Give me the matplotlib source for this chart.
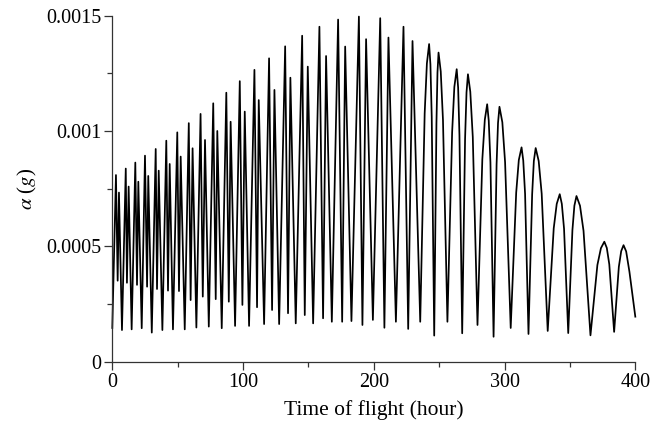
import matplotlib
matplotlib.use("Agg")
import matplotlib.pyplot as plt
from matplotlib.ticker import MultipleLocator, FuncFormatter

# turning points; the wide arches after 240 h also get
# a few shoulder points so their round tops show
time_h = [0.0, 2.8, 4.1, 5.1, 7.4, 10.3, 11.2, 12.5, 14.8, 17.6, 18.9, 19.9, 22.5,
          25.0, 26.6, 27.5, 30.2, 33.2, 34.2, 35.5, 38.3, 41.3, 42.6, 43.9, 46.4,
          49.7, 51.0, 52.3, 55.4, 58.5, 59.9, 61.4, 64.3, 67.5, 69.2, 70.9, 73.8,
          77.2, 79.1, 80.3, 83.7, 87.2, 89.1, 90.5, 93.9, 97.5, 99.5, 101.3, 104.6,
          108.7, 110.7, 112.0, 116.1, 119.9, 122.2, 124.0, 127.6, 132.2, 134.4,
          136.2, 140.3, 145.2, 147.2, 149.5, 153.6, 158.4, 161.2, 163.5, 167.9,
          172.7, 175.8, 178.1, 182.9, 188.6, 191.3, 194.1, 199.3, 204.9, 208.1,
          211.2, 216.9, 222.7, 226.3, 229.6, 235.5,
          238.9, 240.6, 242.3, 243.3, 244.3, 246.2,
          247.9, 248.7, 249.5, 251.2, 252.9, 256.3,
          259.9, 261.6, 263.4, 264.5, 265.5, 267.6,
          269.8, 270.9, 272.0, 273.8, 275.7, 279.3,
          283.0, 284.9, 286.7, 287.9, 289.2, 291.6,
          293.9, 295.0, 296.1, 298.3, 300.4, 304.7,
          308.9, 310.9, 313.0, 314.3, 315.7, 318.3,
          321.1, 322.4, 323.8, 326.1, 328.4, 333.0,
          337.6, 339.9, 342.2, 343.8, 345.5, 348.7,
          351.9, 353.4, 355.0, 357.7, 360.4, 365.7,
          371.0, 373.7, 376.3, 378.2, 380.1, 383.8,
          387.4, 389.2, 391.0, 393.0, 395.5, 400.0]

accel_g = [0.000146, 0.000809, 0.000351, 0.000733, 0.000137, 0.000837, 0.000342,
           0.000759, 0.000140, 0.000863, 0.000333, 0.000780, 0.000145, 0.000893,
           0.000325, 0.000805, 0.000126, 0.000922, 0.000315, 0.000828, 0.000137,
           0.000958, 0.000308, 0.000857, 0.000140, 0.000994, 0.000306, 0.000889,
           0.000140, 0.001034, 0.000267, 0.000925, 0.000148, 0.001074, 0.000282,
           0.000961, 0.000152, 0.001120, 0.000271, 0.001000, 0.000145, 0.001166,
           0.000260, 0.001040, 0.000155, 0.001216, 0.000246, 0.001084, 0.000155,
           0.001265, 0.000236, 0.001134, 0.000163, 0.001315, 0.000224, 0.001178,
           0.000163, 0.001367, 0.000210, 0.001231, 0.000166, 0.001413, 0.000202,
           0.001279, 0.000166, 0.001452, 0.000188, 0.001325, 0.000173, 0.001483,
           0.000173, 0.001366, 0.000176, 0.001496, 0.000159, 0.001398, 0.000181,
           0.001489, 0.000147, 0.001405, 0.000173, 0.001452, 0.000142, 0.001390,
           0.000173,
           0.001076, 0.001293, 0.001377, 0.001289, 0.001061, 0.000113,
           0.001033, 0.001254, 0.001340, 0.001258, 0.001048, 0.000173,
           0.000994, 0.001191, 0.001268, 0.001188, 0.000982, 0.000123,
           0.000965, 0.001167, 0.001246, 0.001170, 0.000974, 0.000159,
           0.000877, 0.001049, 0.001116, 0.001045, 0.000864, 0.000108,
           0.000856, 0.001035, 0.001105, 0.001038, 0.000865, 0.000146,
           0.000733, 0.000874, 0.000929, 0.000872, 0.000727, 0.000120,
           0.000725, 0.000870, 0.000926, 0.000870, 0.000728, 0.000133,
           0.000578, 0.000684, 0.000726, 0.000684, 0.000576, 0.000124,
           0.000570, 0.000676, 0.000718, 0.000676, 0.000567, 0.000114,
           0.000419, 0.000492, 0.000520, 0.000493, 0.000422, 0.000129,
           0.000411, 0.000479, 0.000505, 0.000478, 0.000390, 0.000195]

plt.rcParams['font.family'] = ['Liberation Serif', 'DejaVu Serif']
plt.rcParams['mathtext.fontset'] = 'stix'

fig = plt.figure(figsize=(6.51, 4.29), dpi=100)
ax = fig.add_axes([0.1725, 0.157, 0.8034, 0.8065])

ax.plot(time_h, accel_g, color='black', linewidth=1.25,
        solid_joinstyle='round', clip_on=False)

ax.set_xlim(0, 400)
ax.set_ylim(0, 0.0015)
ax.xaxis.set_major_locator(MultipleLocator(100))
ax.xaxis.set_minor_locator(MultipleLocator(50))
ax.yaxis.set_major_locator(MultipleLocator(0.0005))
ax.yaxis.set_minor_locator(MultipleLocator(0.00025))


def fmt_y(v, pos):
    if abs(v) < 1e-12:
        return "0"
    return ("%.4f" % v).rstrip('0')


ax.yaxis.set_major_formatter(FuncFormatter(fmt_y))

for side in ['top', 'right']:
    ax.spines[side].set_visible(False)
for side in ['left', 'bottom']:
    ax.spines[side].set_linewidth(0.9)
    ax.spines[side].set_color('#333333')

ax.tick_params(which='major', direction='out', length=6, width=0.9, labelsize=14.5,
               color='#333333', pad=2)
ax.tick_params(which='minor', direction='out', length=3.5, width=0.9, color='#333333')

ax.set_xlabel('Time of flight (hour)', fontsize=15.5, labelpad=6)
ax.set_ylabel(r'$\alpha$ ($g$)', fontsize=15, labelpad=5)

fig.savefig('out.png', dpi=100)
